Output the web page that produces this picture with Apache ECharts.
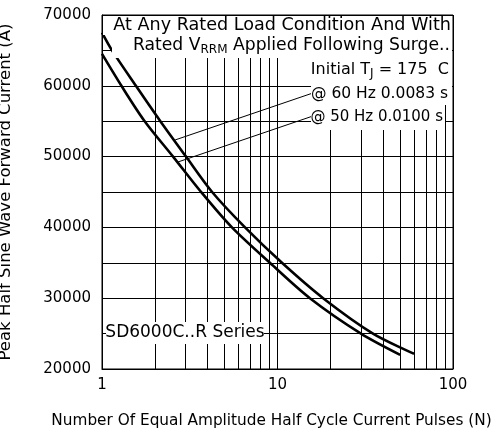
<!DOCTYPE html>
<html>
<head>
<meta charset="utf-8">
<script src="https://cdn.jsdelivr.net/npm/echarts@6/dist/echarts.min.js"></script>
<style>html,body{margin:0;padding:0;background:#fff}#c{width:493px;height:429px}</style>
</head>
<body>
<div id="c"></div>
<script>
// ---- data ----
const pulses60 = [1, 1.14, 1.56, 2.15, 3.01, 4.24, 6.53, 10.6, 18.2, 35, 60];
const current60 = [67500, 65000, 60000, 55000, 50000, 45000, 40000, 35000, 30000, 25000, 22150];
const pulses50 = [1, 1.29, 1.75, 2.54, 3.67, 5.5, 9.05, 15.3, 29.9, 50];
const current50 = [64500, 60000, 55000, 50000, 45000, 40000, 35000, 30000, 25000, 22000];
const minorGridN = [2, 3, 4, 5, 6, 7, 8, 9, 20, 30, 40, 50, 60, 70, 80, 90];
const leader60 = [[15.9, 58980], [2.61, 52350]];
const leader50 = [[15.9, 55730], [2.71, 49240]];
const yTicks = [20000, 30000, 40000, 50000, 60000, 70000];

const FONT = 'DejaVu Sans';
const chart = echarts.init(document.getElementById('c'), null, {renderer: 'canvas'});

function pairs(xs, ys) { return xs.map((x, i) => [x, ys[i]]); }

function txt(x, y, text, size) {
  return {
    type: 'text', x: x, y: y, z: 101,
    style: {
      text: text,
      rich: {
        n: {fontSize: size, fontFamily: FONT, lineHeight: 20, verticalAlign: 'middle', fill: '#000'},
        s: {fontSize: 12, fontFamily: FONT, lineHeight: 20, verticalAlign: 'bottom', fill: '#000'}
      },
      align: 'right', verticalAlign: 'middle', textAlign: 'right', textVerticalAlign: 'middle'
    }
  };
}
function box(x, y, w, h) {
  return {type: 'rect', z: 100, shape: {x: x, y: y, width: w, height: h}, style: {fill: '#fff'}};
}

chart.setOption({
  animation: false,
  backgroundColor: '#fff',
  grid: {left: 102, right: 40, top: 15, bottom: 60, show: true, borderColor: '#000', borderWidth: 1,
    backgroundColor: 'transparent', containLabel: false, outerBoundsMode: 'none'},
  xAxis: {
    type: 'log', logBase: 10, min: 1, max: 100,
    name: 'Number Of Equal Amplitude Half Cycle Current Pulses (N)',
    nameLocation: 'middle', nameGap: 45,
    nameTextStyle: {fontFamily: FONT, fontSize: 15.3, color: '#000', padding: [0, 12, 0, 0]},
    axisLine: {lineStyle: {color: '#000', width: 1}},
    axisTick: {show: false},
    axisLabel: {fontFamily: FONT, fontSize: 15, color: '#000', margin: 9},
    splitLine: {show: true, lineStyle: {color: '#000', width: 1}}
  },
  yAxis: {
    type: 'value', min: 20000, max: 70000, interval: 5000,
    name: 'Peak Half Sine Wave Forward Current (A)',
    nameLocation: 'middle', nameGap: 88,
    nameTextStyle: {fontFamily: FONT, fontSize: 16.5, color: '#000'},
    axisLine: {lineStyle: {color: '#000', width: 1}},
    axisTick: {show: false},
    axisLabel: {fontFamily: FONT, fontSize: 15, color: '#000', margin: 11,
      formatter: v => yTicks.indexOf(v) >= 0 ? String(v) : ''},
    splitLine: {show: true, lineStyle: {color: '#000', width: 1}}
  },
  series: [
    {
      type: 'line', data: pairs(pulses60, current60), showSymbol: false, smooth: 0.3,
      lineStyle: {color: '#000', width: 2.6}, z: 5,
      markLine: {
        silent: true, symbol: 'none', label: {show: false},
        lineStyle: {color: '#000', width: 1, type: 'solid'},
        data: minorGridN.map(n => ({xAxis: n})).concat([
          [{coord: leader60[0]}, {coord: leader60[1]}],
          [{coord: leader50[0]}, {coord: leader50[1]}]
        ])
      }
    },
    {
      type: 'line', data: pairs(pulses50, current50), showSymbol: false, smooth: 0.3,
      lineStyle: {color: '#000', width: 2.6}, z: 5
    }
  ],
  graphic: [
    box(103, 16, 349, 19),
    box(112, 35, 340, 23),
    box(300, 58, 152, 24),
    box(311, 82, 141, 23),
    box(311, 105, 134, 25),
    box(106, 322, 158, 22),
    txt(451, 25, '{n|At Any Rated Load Condition And With}', 17.6),
    txt(450, 46, '{n|Rated V}{s|RRM}{n| Applied Following Surge..}', 17.2),
    txt(449, 70, '{n|Initial T}{s|J}{n| = 175  C}', 16),
    txt(448, 94, '{n|@ 60 Hz 0.0083 s}', 15.5),
    txt(443, 117, '{n|@ 50 Hz 0.0100 s}', 15),
    {type: 'text', x: 185, y: 333, z: 101,
      style: {text: 'SD6000C..R Series', font: '17px ' + FONT, fill: '#000', align: 'center', verticalAlign: 'middle', textAlign: 'center', textVerticalAlign: 'middle'}}
  ]
});
</script>
</body>
</html>
